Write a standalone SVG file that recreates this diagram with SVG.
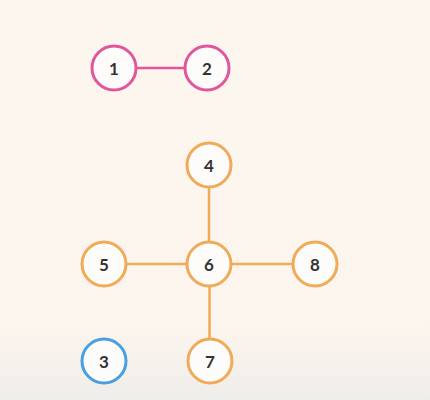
<svg xmlns="http://www.w3.org/2000/svg" width="430" height="400" viewBox="0 0 430 400">
<defs>
<linearGradient id="bg" x1="0" y1="0" x2="0" y2="1">
<stop offset="0" stop-color="#fdf6ef"/>
<stop offset="0.82" stop-color="#fcf5ee"/>
<stop offset="1" stop-color="#efedea"/>
</linearGradient>
</defs>
<style>
.n{fill:#fdfcfb;stroke-width:3}
.p{stroke:#e2569c}
.o{stroke:#f0aa58}
.b{stroke:#4a9ee2}
.t{font-family:"Lato","Open Sans",sans-serif;font-weight:bold;font-size:17px;fill:#333;text-anchor:middle;dominant-baseline:central}
.e{stroke-width:2.5}
</style>
<rect width="430" height="400" fill="url(#bg)"/>
<g id="connectors">
<line class="e p" x1="136" y1="68" x2="185" y2="68"/>
<line class="e o" x1="209" y1="188" x2="209" y2="241"/>
<line class="e o" x1="127" y1="264" x2="186" y2="264"/>
<line class="e o" x1="232" y1="264" x2="292" y2="264"/>
<line class="e o" x1="209.5" y1="287" x2="209.5" y2="338"/>
</g>
<g id="node1"><circle class="n p" cx="114" cy="68" r="22"/><text class="t" x="114" y="68">1</text></g>
<g id="node2"><circle class="n p" cx="207" cy="68" r="22"/><text class="t" x="207" y="68">2</text></g>
<g id="node4"><circle class="n o" cx="209" cy="165" r="22"/><text class="t" x="209" y="165">4</text></g>
<g id="node5"><circle class="n o" cx="104" cy="264" r="22"/><text class="t" x="104" y="264">5</text></g>
<g id="node6"><circle class="n o" cx="209" cy="264" r="22"/><text class="t" x="209" y="264">6</text></g>
<g id="node8"><circle class="n o" cx="315" cy="264" r="22"/><text class="t" x="315" y="264">8</text></g>
<g id="node3"><circle class="n b" cx="104" cy="361" r="22"/><text class="t" x="104" y="361">3</text></g>
<g id="node7"><circle class="n o" cx="210" cy="361" r="22"/><text class="t" x="210" y="361">7</text></g>
</svg>
